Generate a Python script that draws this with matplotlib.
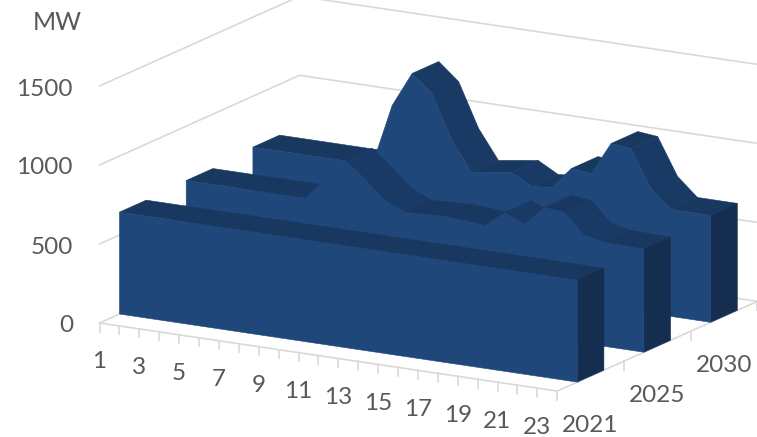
# -*- coding: utf-8 -*-
"""
Hourly load profile per year, drawn as a 3D ribbon area chart
"""
import matplotlib
matplotlib.use('Agg')
import matplotlib.pyplot as plt
from matplotlib.patches import Polygon

plt.rcParams['font.family'] = ['Lato', 'DejaVu Sans']

hours = list(range(1, 25))
hour_labels = list(range(1, 24, 2))
years = ['2021', '2025', '2030']
mw_ticks = [0, 500, 1000, 1500]

mw_2021 = [645, 645, 645, 645, 645, 645, 645, 645, 645, 645, 645, 645,
           645, 645, 645, 645, 645, 645, 645, 645, 645, 645, 645, 645]
mw_2025 = [656, 656, 656, 656, 656, 656, 656, 800, 934, 831, 717, 660,
           666, 672, 666, 652, 753, 696, 823, 810, 684, 658, 655, 652]
mw_2030 = [678, 678, 678, 678, 678, 678, 678, 1073, 1294, 1185, 908, 724,
           743, 761, 691, 703, 842, 829, 1038, 1025, 791, 677, 677, 677]
series = [mw_2021, mw_2025, mw_2030]

# oblique projection, everything in pixels
x0, y0 = 99.5, 323.0
hour_dx, hour_dy = 19.9, 2.96
year_dx, year_dy = 66.7, -29.9
mw_dy = -79.0 / 500.0

front_col = '#1F477A'
cap_col = '#152D4E'
flat_col = '#193860'
down_col = '#193A65'
up_col = '#1B3E6C'
grid_col = '#D9D9D9'
text_col = '#595959'


def proj(h, pos, mw=0.0):
    x = x0 + (h - 1) * hour_dx + pos * year_dx
    y = y0 + (h - 1) * hour_dy + pos * year_dy + mw * mw_dy
    return x, y


def top_colour(v1, v2):
    if abs(v2 - v1) < 25:
        return flat_col
    if v2 > v1:
        return up_col
    return down_col


def face(ax, pts, col, z):
    ax.add_patch(Polygon(pts, closed=True, facecolor=col, edgecolor=col,
                         linewidth=0.4, zorder=z))


fig = plt.figure(figsize=(7.57, 4.37), dpi=100)
ax = fig.add_axes([0, 0, 1, 1])
ax.set_xlim(0, 757)
ax.set_ylim(437, 0)
ax.axis('off')

# side wall and back wall gridlines
for m in mw_ticks:
    xa, ya = proj(1, 0, m)
    xb, yb = proj(1, 3, m)
    xc, yc = proj(24, 3, m)
    ax.plot([xa, xb, xc], [ya, yb, yc], color=grid_col, lw=1.2, zorder=1)

# floor edges with their ticks
xa, ya = proj(24, 0)
xb, yb = proj(24, 3)
xc, yc = proj(1, 0)
ax.plot([xc, xa, xb], [yc, ya, yb], color=grid_col, lw=1.2, zorder=1)
for h in hours:
    xa, ya = proj(h, 0)
    ax.plot([xa, xa], [ya, ya + 8.5], color=grid_col, lw=1.2, zorder=1)
for p in range(len(years)):
    xa, ya = proj(24, p + 1)
    ax.plot([xa, xa], [ya, ya + 8.5], color=grid_col, lw=1.2, zorder=1)

# back series first; inside a ribbon go from left to right, front face last
z = 2
for p in range(len(series) - 1, -1, -1):
    vals = series[p]
    front = p + 0.3
    back = p + 0.7
    run = []
    run_col = None
    for i in range(len(hours) - 1):
        a = proj(hours[i], front, vals[i])
        b = proj(hours[i + 1], front, vals[i + 1])
        # skip the quads turned away from the viewer
        slope = (b[1] - a[1]) / (b[0] - a[0])
        col = top_colour(vals[i], vals[i + 1])
        if slope < year_dy / year_dx:
            col = None
        # neighbouring quads of one colour go in a single polygon, no seams
        if col != run_col and run:
            pts = [proj(hours[k], front, vals[k]) for k in run]
            pts += [proj(hours[k], back, vals[k]) for k in reversed(run)]
            face(ax, pts, run_col, z)
            run = []
        run_col = col
        if col is not None:
            if not run:
                run.append(i)
            run.append(i + 1)
    if run:
        pts = [proj(hours[k], front, vals[k]) for k in run]
        pts += [proj(hours[k], back, vals[k]) for k in reversed(run)]
        face(ax, pts, run_col, z)
    last = hours[-1]
    face(ax, [proj(last, front), proj(last, back), proj(last, back, vals[-1]),
              proj(last, front, vals[-1])], cap_col, z + 0.1)
    outline = [proj(hours[0], front)]
    outline += [proj(h, front, v) for h, v in zip(hours, vals)]
    outline.append(proj(last, front))
    face(ax, outline, front_col, z + 0.2)
    z += 1

# labels
for m in mw_ticks:
    xa, ya = proj(1, 0, m)
    ax.text(73, ya + 3, str(m), color=text_col, fontsize=17.5, ha='right', va='center')
ax.text(57, 23, 'MW', color=text_col, fontsize=18, ha='center', va='center')
for h in hour_labels:
    xa, ya = proj(h, 0)
    ax.text(xa, ya + 39, str(h), color=text_col, fontsize=17.5, ha='center', va='center')
for p in range(len(years)):
    xa, ya = proj(24, p + 0.5)
    ax.text(xa, ya + 49.5, years[p], color=text_col, fontsize=17.5, ha='center', va='center')

fig.savefig('out.png', dpi=100)
